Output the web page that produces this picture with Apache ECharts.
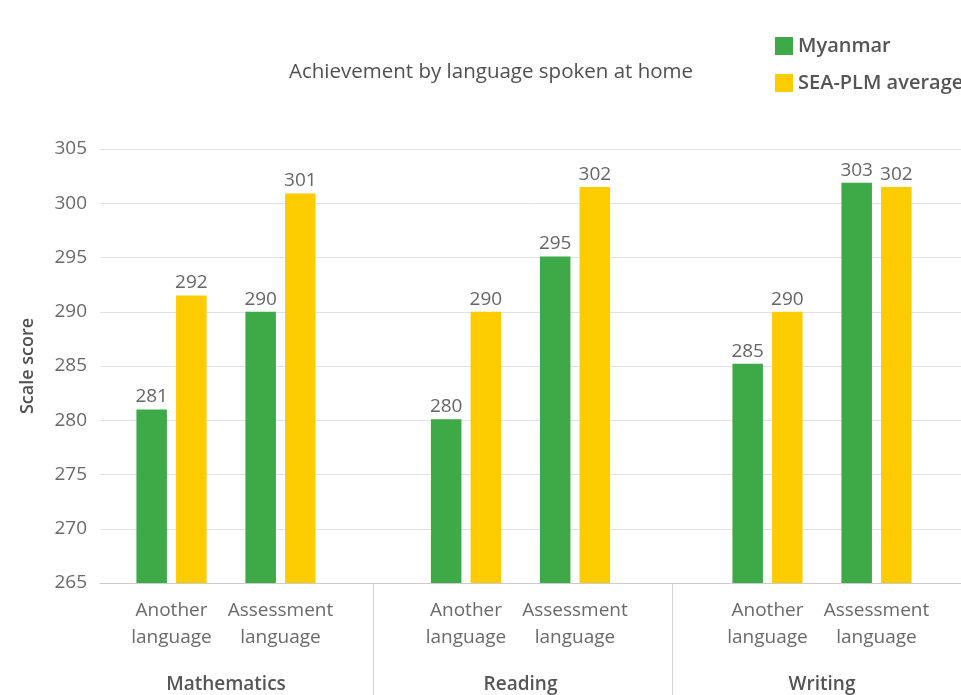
<!DOCTYPE html>
<html>
<head>
<meta charset="utf-8">
<script src="https://cdn.jsdelivr.net/npm/echarts@6/dist/echarts.min.js"></script>
<style>
html,body{margin:0;padding:0;background:#fff;}
#chart{width:961px;height:695px;}
</style>
</head>
<body>
<div id="chart"></div>
<script>
var subjects = ['Mathematics', 'Reading', 'Writing'];
var langCats = ['Another\nlanguage', 'Assessment\nlanguage'];
var seriesNames = ['Myanmar', 'SEA-PLM average'];
// values per subject: [another, assessment]
var myanmarValues = [[281.0, 290.0], [280.1, 295.1], [285.2, 301.9]];
var seaValues = [[291.5, 300.9], [290.0, 301.5], [290.0, 301.5]];
var myanmarLabels = [['281', '290'], ['280', '295'], ['285', '303']];
var seaLabels = [['292', '301'], ['290', '302'], ['290', '302']];
var yTicks = {min: 265, max: 305, interval: 5};

var FONT = '"Open Sans", "Noto Sans", sans-serif';
var GREEN = '#3daa47';
var YELLOW = '#fdcc00';
var TOP = 149, BOTTOM = 112;
var groupLefts = [117, 411.5, 713];
var groupWidth = 218;

var grids = [{left: 100, right: 0, top: TOP, bottom: BOTTOM}];
var xAxes = [{
  type: 'value', gridIndex: 0, min: 0, max: 1,
  axisLine: {show: true, lineStyle: {color: '#cccccc', width: 1}},
  axisTick: {show: false}, axisLabel: {show: false}, splitLine: {show: false}
}];
var yAxes = [{
  type: 'value', gridIndex: 0, min: yTicks.min, max: yTicks.max, interval: yTicks.interval,
  name: 'Scale score', nameLocation: 'middle', nameGap: 63, nameRotate: 90,
  nameTextStyle: {fontFamily: FONT, fontSize: 18, fontWeight: 600, color: '#505050'},
  axisLine: {show: false}, axisTick: {show: false},
  axisLabel: {fontFamily: FONT, fontSize: 19, color: '#6a6a6a', margin: 13},
  splitLine: {lineStyle: {color: '#e2e2e2', width: 1}}
}];
var series = [];

subjects.forEach(function (subj, i) {
  var gi = i + 1;
  grids.push({left: groupLefts[i], width: groupWidth, top: TOP, bottom: BOTTOM});
  xAxes.push({
    type: 'category', gridIndex: gi, data: langCats,
    axisLine: {show: false}, axisTick: {show: false}, splitLine: {show: false},
    axisLabel: {fontFamily: FONT, fontSize: 19, color: '#6a6a6a', margin: 14, lineHeight: 27, interval: 0}
  });
  xAxes.push({
    type: 'category', gridIndex: gi, data: [subj], position: 'bottom',
    axisLine: {show: false}, axisTick: {show: false}, splitLine: {show: false},
    axisLabel: {fontFamily: FONT, fontSize: 19, fontWeight: 600, color: '#555555', margin: 92}
  });
  yAxes.push({
    type: 'value', gridIndex: gi, min: yTicks.min, max: yTicks.max, interval: yTicks.interval,
    show: false, splitLine: {show: false}
  });
  var xIdx = xAxes.length - 2;
  var yIdx = yAxes.length - 1;
  [[myanmarValues[i], myanmarLabels[i], GREEN, seriesNames[0]],
   [seaValues[i], seaLabels[i], YELLOW, seriesNames[1]]].forEach(function (s) {
    var labs = s[1];
    series.push({
      type: 'bar', name: s[3], xAxisIndex: xIdx, yAxisIndex: yIdx,
      data: s[0], barWidth: 30.5, barGap: '30%',
      itemStyle: {color: s[2]},
      label: {
        show: true, position: 'top', distance: 3,
        fontFamily: FONT, fontSize: 19, color: '#666666',
        formatter: function (p) { return labs[p.dataIndex]; }
      },
      emphasis: {disabled: true}
    });
  });
});

var chart = echarts.init(document.getElementById('chart'), null, {renderer: 'canvas'});
chart.setOption({
  animation: false,
  backgroundColor: '#ffffff',
  title: {
    text: 'Achievement by language spoken at home',
    left: 289, top: 62, padding: 0,
    textStyle: {fontFamily: FONT, fontSize: 20.5, fontWeight: 'normal', color: '#505050'}
  },
  legend: {
    data: seriesNames, orient: 'vertical', left: 775, top: 36, padding: 0,
    itemWidth: 18, itemHeight: 18, itemGap: 17, icon: 'rect',
    textStyle: {fontFamily: FONT, fontSize: 20, fontWeight: 600, color: '#555555'}
  },
  grid: grids,
  xAxis: xAxes,
  yAxis: yAxes,
  series: series,
  graphic: [
    {type: 'line', shape: {x1: 373.5, y1: 583, x2: 373.5, y2: 695}, style: {stroke: '#d0d0d0', lineWidth: 1}},
    {type: 'line', shape: {x1: 672.5, y1: 583, x2: 672.5, y2: 695}, style: {stroke: '#d0d0d0', lineWidth: 1}}
  ]
});
</script>
</body>
</html>
